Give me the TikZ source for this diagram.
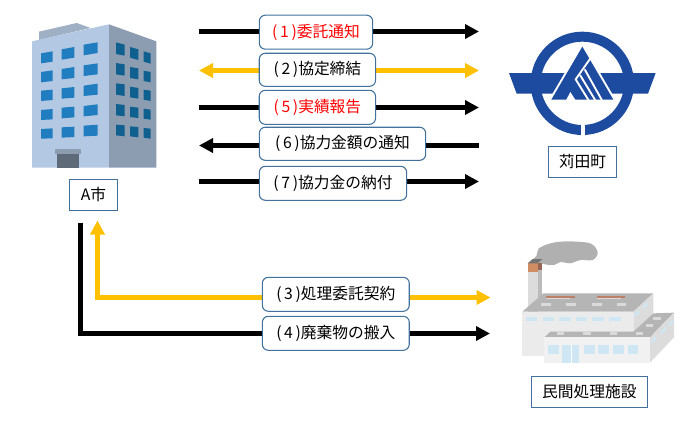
\documentclass[tikz,border=0pt]{standalone}
\usepackage{fontspec}
\setmainfont{Noto Sans CJK JP}
\usetikzlibrary{arrows.meta}
\definecolor{boxline}{HTML}{41719C}
\definecolor{gold}{HTML}{FFC000}
\definecolor{wallf}{HTML}{B3C9E3}
\definecolor{walls}{HTML}{8C9DB2}
\definecolor{roofb}{HTML}{A0B0C4}
\definecolor{winf}{HTML}{1F7DC0}
\definecolor{wins}{HTML}{0F5F8F}
\definecolor{doorc}{HTML}{5E6A78}
\definecolor{logob}{HTML}{1C4BA0}
\definecolor{smoke}{HTML}{B0B0B0}
\definecolor{froof}{HTML}{B5B5B5}
\definecolor{ffront}{HTML}{EBEBEB}
\definecolor{fside}{HTML}{DCDCDC}
\definecolor{fwin}{HTML}{CFE6F5}
\definecolor{fvent}{HTML}{DADADA}
\definecolor{frust}{HTML}{BC7F68}
\definecolor{fcap}{HTML}{D08C62}
\newcommand{\pn}[1]{(\kern2pt #1\kern2pt)}
\tikzset{
  txt/.style={font=\fontsize{11.8}{14}\selectfont,text=black,inner sep=0pt},
  lblbox/.style={txt,draw=boxline,line width=0.8pt,fill=white,rounded corners=4.5pt},
  namebox/.style={txt,draw=boxline,line width=0.8pt,fill=white},
  redtext/.style={text=red},
  flow/.style={line width=3.75pt,-{Triangle[length=10.5pt,width=10.5pt]}},
  flowb/.style={line width=3.75pt,{Triangle[length=10.5pt,width=10.5pt]}-{Triangle[length=10.5pt,width=10.5pt]}},
  flowr/.style={line width=3.75pt,{Triangle[length=10.5pt,width=10.5pt]}-},
  art/.style={x=0.25pt,y=-0.25pt}
}
\newcommand{\quadw}[7]{\fill[#7] (#1,#3)--(#2,#4)--(#2,#5)--(#1,#6)--cycle;}
\begin{document}
\begin{tikzpicture}[x=0.75pt,y=-0.75pt]
\useasboundingbox (0,0) rectangle (690,422);
% building
\begin{scope}[art]
\fill[roofb] (117,95)--(230,69)--(272,84)--(117,120)--cycle;
\fill[wallf] (96,124)--(327,73)--(327,503)--(96,503)--cycle;
\fill[walls] (327,73)--(469,124)--(469,503)--(327,503)--cycle;
\foreach \ya/\yb/\yc/\yd/\ye/\yf/\yg/\yh/\yi/\yj/\yk/\yl in {
 160/154/185/190/148/141/173/179/134/127/159/166,
 216/211/243/247/207/201/234/238/196/190/223/228,
 272/269/300/303/265/261/293/296/257/251/284/288,
 330/327/358/360/323/320/352/355/318/313/345/349,
 387/385/415/416/382/380/411/413/377/374/407/409}{
 \quadw{123}{158}{\ya}{\yb}{\yc}{\yd}{winf}
 \quadw{185}{223}{\ye}{\yf}{\yg}{\yh}{winf}
 \quadw{251}{293}{\yi}{\yj}{\yk}{\yl}{winf}
}
\foreach \ya/\yb/\yc/\yd/\ye/\yf/\yg/\yh/\yi/\yj/\yk/\yl in {
 127/134/167/162/141/148/180/173/154/160/191/185,
 189/193/227/223/201/205/238/234/212/216/247/243,
 250/253/288/284/260/264/296/292/269/272/303/299,
 312/315/349/346/320/323/354/351/326/329/359/356,
 374/376/409/406/379/381/412/409/384/386/416/413}{
 \quadw{348}{374}{\ya}{\yb}{\yc}{\yd}{wins}
 \quadw{390}{415}{\ye}{\yf}{\yg}{\yh}{wins}
 \quadw{431}{452}{\yi}{\yj}{\yk}{\yl}{wins}
}
\fill[walls] (165,447) rectangle (244,462);
\fill[doorc] (171,462) rectangle (238,503);
\end{scope}
% logo
\begin{scope}[art,xshift=367.5pt,yshift=-15pt]
\fill[logob,even odd rule] (277,190) circle [radius=155] (277,190) circle [radius=125];
\fill[white] (272,300) rectangle (284,350);
\fill[logob] (57,159)--(225,159)--(195,221)--(80,221)--cycle;
\fill[logob] (330,159)--(497,159)--(474,221)--(362,221)--cycle;
\draw[white,line width=3pt,line join=miter] (277,80)--(184,239)--(370,239)--cycle;
\fill[logob] (277,80)--(184,239)--(370,239)--cycle;
\fill[white] (228,241)--(241,216)--(257,241)--cycle;
\draw[white,line width=1.4pt] (302,114)--(257,178)--(296,241);
\draw[white,line width=1.4pt] (284,148)--(336,241);
\draw[white,line width=1.4pt] (270,165)--(316,241);
\end{scope}
% factory
\begin{scope}[art,xshift=367.5pt,yshift=-172.5pt]
\fill[smoke] plot[smooth cycle,tension=0.6] coordinates {(126,94)(140,76)(146,56)(175,42)(212,35)(262,35)(305,42)(323,68)(308,90)(272,90)(240,100)(212,96)(192,105)(165,103)(146,98)};
\fill[fside!85!black] (143,100) rectangle (157,240);
\fill[fside] (113,127) rectangle (143,245);
\fill[fcap] (113,100) rectangle (143,127);
\fill[frust!80!black] (143,100) rectangle (157,120);
\fill[black!55] (113,100)--(128,87)--(157,87)--(143,100)--cycle;
\fill[froof] (97,245)--(160,190)--(490,190)--(430,245)--cycle;
\fill[ffront] (97,245) rectangle (430,378);
\fill[fside] (430,245)--(490,190)--(490,250)--(430,305)--cycle;
\foreach \xa/\xb in {108/140,158/192,208/242,257/292,306/342,358/392}{\fill[fwin] (\xa,260) rectangle (\xb,272);}
\foreach \xa/\xb in {152/182,228/258,305/335,380/408}{\fill[fvent] (\xa,218) rectangle (\xb,228);}
\fill[frust] (168,198) rectangle (255,203);
\fill[frust] (322,198) rectangle (405,203);
\fill[fvent] (168,204) rectangle (240,208);
\fill[fvent] (322,204) rectangle (392,208);
\fill[fwin] (433,253)--(447,240)--(447,250)--(433,263)--cycle;
\fill[fwin] (459,228)--(473,215)--(473,225)--(459,238)--cycle;
\fill[froof] (163,322)--(181,305)--(430,305)--(490,250)--(552,248)--(480,322)--cycle;
\fill[ffront!70!white] (163,322) rectangle (480,398);
\fill[fside] (480,322)--(552,248)--(552,322)--(480,398)--cycle;
\foreach \xa/\xb in {175/207,283/315,325/358,370/402,413/445}{\fill[fwin] (\xa,345) rectangle (\xb,373);}
\fill[fwin] (217,345) rectangle (268,398);
\draw[white,line width=0.5pt] (242.5,345)--(242.5,398);
\foreach \xa/\xb/\yy in {200/222/307,280/302/307,360/382/307,438/460/307,467/490/282,490/513/262}{\fill[fvent] (\xa,\yy) rectangle (\xb,\yy+8);}
\fill[fwin] (484,332)--(500,316)--(500,326)--(484,342)--cycle;
\fill[fwin] (512,305)--(528,289)--(528,299)--(512,315)--cycle;
\fill[fwin] (536,281)--(549,268)--(549,278)--(536,291)--cycle;
\end{scope}
% connector ends
\coordinate (a1s) at (199,31.5); \coordinate (a1e) at (479,31.5);
\coordinate (a2s) at (199,70.5); \coordinate (a2e) at (479,70.5);
\coordinate (a5s) at (199,107.5); \coordinate (a5e) at (479,107.5);
\coordinate (a6s) at (199,145.5); \coordinate (a6e) at (479,145.5);
\coordinate (a7s) at (199,181.5); \coordinate (a7e) at (479,181.5);
\coordinate (a3s) at (97.5,220.5); \coordinate (a3c) at (97.5,297.5); \coordinate (a3e) at (490.5,297.5);
\coordinate (a4s) at (80.5,222.5); \coordinate (a4c) at (80.5,333.5); \coordinate (a4e) at (490,333.5);
\draw[flow] (a1s) -- (a1e);
\draw[flowb,gold] (a2s) -- (a2e);
\draw[flow] (a5s) -- (a5e);
\draw[flowr] (a6s) -- (a6e);
\draw[flow] (a7s) -- (a7e);
\draw[flowb,gold,line join=miter] (a3s) -- (a3c) -- (a3e);
\draw[flow,line join=miter] (a4s) -- (a4c) -- (a4e);
% labels
\node[lblbox,redtext,minimum width=85pt,minimum height=25.5pt] (n1) at (316,32.2) {\pn{1}委託通知};
\node[lblbox,minimum width=87.2pt,minimum height=24.8pt] (n2) at (317.4,69.8) {\pn{2}協定締結};
\node[lblbox,redtext,minimum width=87.2pt,minimum height=25.5pt] (n5) at (317.4,107.3) {\pn{5}実績報告};
\node[lblbox,minimum width=124.8pt,minimum height=24.8pt] (n6) at (342.5,143.8) {\pn{6}協力金額の通知};
\node[lblbox,minimum width=110.5pt,minimum height=25.5pt] (n7) at (333,183.3) {\pn{7}協力金の納付};
\node[lblbox,minimum width=110.2pt,minimum height=25.5pt] (n3) at (335.8,294.3) {\pn{3}処理委託契約};
\node[lblbox,minimum width=110.2pt,minimum height=25.5pt] (n4) at (335.8,333.3) {\pn{4}廃棄物の搬入};
\node[namebox,minimum width=36.3pt,minimum height=23.5pt] (city) at (93.5,195) {A市};
\node[namebox,minimum width=51.3pt,minimum height=23.3pt] (town) at (582.5,161.8) {苅田町};
\node[namebox,minimum width=87pt,minimum height=23.5pt] (plant) at (589.3,392) {民間処理施設};
\end{tikzpicture}
\end{document}
